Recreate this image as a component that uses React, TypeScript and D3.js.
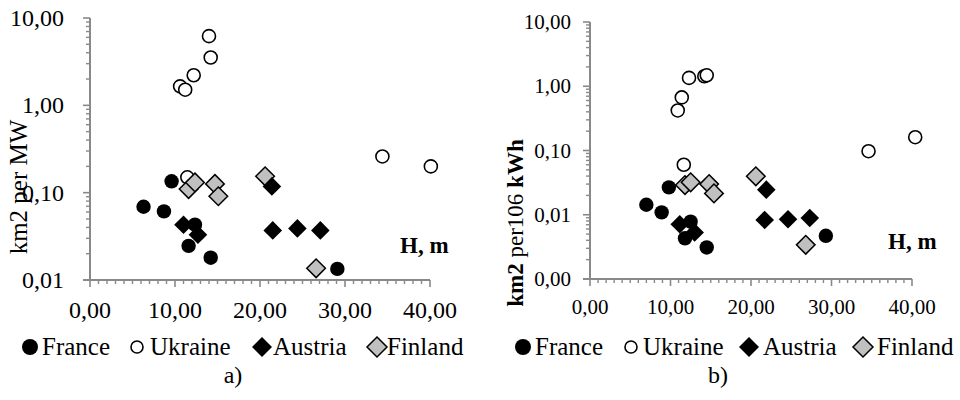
import React from 'react';
import * as d3 from 'd3';

// [H (m), value]
const franceA = [[6.3, 0.069], [8.7, 0.061], [9.6, 0.135], [11.6, 0.0246], [12.35, 0.043], [14.2, 0.018], [29.1, 0.0134]];
const ukraineA = [[10.6, 1.65], [11.2, 1.51], [11.45, 0.15], [12.2, 2.21], [14.0, 6.2], [14.2, 3.53], [34.4, 0.26], [40.1, 0.2]];
const austriaA = [[11.0, 0.043], [12.7, 0.033], [21.4, 0.118], [21.5, 0.037], [24.4, 0.039], [27.1, 0.037]];
const finlandA = [[11.6, 0.11], [12.35, 0.131], [14.7, 0.126], [15.1, 0.091], [20.6, 0.154], [26.6, 0.0136]];

const franceB = [[7.0, 0.0143], [8.9, 0.0109], [9.8, 0.0267], [11.8, 0.0043], [12.5, 0.0078], [14.5, 0.0031], [29.3, 0.0047]];
const ukraineB = [[10.9, 0.42], [11.4, 0.67], [11.65, 0.06], [12.3, 1.35], [14.2, 1.43], [14.5, 1.48], [34.6, 0.0975], [40.4, 0.161]];
const austriaB = [[11.15, 0.0071], [13.0, 0.0053], [21.7, 0.0083], [21.9, 0.0246], [24.6, 0.0085], [27.3, 0.0089]];
const finlandB = [[11.8, 0.029], [12.5, 0.032], [14.8, 0.03], [15.4, 0.0215], [20.6, 0.0397], [26.8, 0.0034]];

const seriesNames = ['France', 'Ukraine', 'Austria', 'Finland'];
const xTicks = [0, 10, 20, 30, 40];
const yTicksA = [0.01, 0.1, 1, 10];
const yTicksB = [0.001, 0.01, 0.1, 1, 10];

const FONT = 'Liberation Serif';
const AXIS = '#898989';

const fmt = (v: number) => d3.format('.2f')(v).replace('.', ',');

function Marker({ type, x, y, big }: any) {
  const r = big ? 8 : 7.2;
  if (type === 'France') return <circle cx={x} cy={y} r={r} fill="#000" />;
  if (type === 'Ukraine') return <circle cx={x} cy={y} r={big ? 6 : 6.5} fill="#fff" stroke="#000" strokeWidth={1.6} />;
  const d = big ? 10 : 9.3;
  const pts = `${x},${y - d} ${x + d},${y} ${x},${y + d} ${x - d},${y}`;
  if (type === 'Austria') return <polygon points={pts} fill="#000" />;
  return <polygon points={pts} fill="#c0c0c0" stroke="#000" strokeWidth={1.5} />;
}

function Panel({ cfg }: any) {
  const x = d3.scaleLinear().domain([0, 40]).range([cfg.x0, cfg.x1]);
  const y = d3.scaleLog().domain(cfg.yDomain).range([cfg.y0, cfg.y1]);
  const minor: number[] = [];
  cfg.yTicks.slice(0, -1).forEach((t: number) => {
    for (let k = 2; k <= 9; k++) minor.push(t * k);
  });
  const xMinor = d3.range(0, 41, 1).filter((t) => t % 10 !== 0);
  // black diamonds sit on top of the grey ones in the picture
  const order = ['France', 'Ukraine', 'Finland', 'Austria'];
  const ts = { fontFamily: FONT };
  return (
    <g>
      {/* y axis */}
      <line x1={cfg.x0} x2={cfg.x0} y1={cfg.y1} y2={cfg.y0} stroke={AXIS} strokeWidth={2} />
      {minor.map((t, i) => (
        <line key={'ym' + i} x1={cfg.x0 - 4} x2={cfg.x0} y1={y(t)} y2={y(t)} stroke={AXIS} strokeWidth={1.4} />
      ))}
      {cfg.yTicks.map((t: number) => (
        <g key={'y' + t}>
          <line x1={cfg.x0 - 7} x2={cfg.x0} y1={y(t)} y2={y(t)} stroke={AXIS} strokeWidth={1.6} />
          <text x={cfg.yLabelX} y={y(t)} textAnchor="end" dominantBaseline="central" fontSize={cfg.tickFont} style={ts}>
            {fmt(t)}
          </text>
        </g>
      ))}
      {/* x axis */}
      <line x1={cfg.x0 - 7} x2={cfg.x1} y1={cfg.y0} y2={cfg.y0} stroke={AXIS} strokeWidth={2} />
      {xMinor.map((t) => (
        <line key={'xm' + t} x1={x(t)} x2={x(t)} y1={cfg.y0} y2={cfg.y0 + 4} stroke={AXIS} strokeWidth={1.4} />
      ))}
      {xTicks.map((t) => (
        <g key={'x' + t}>
          <line x1={x(t)} x2={x(t)} y1={cfg.y0} y2={cfg.y0 + 7} stroke={AXIS} strokeWidth={1.6} />
          <text x={x(t)} y={cfg.xLabelY} textAnchor="middle" dominantBaseline="central" fontSize={cfg.tickFont} style={ts}>
            {fmt(t)}
          </text>
        </g>
      ))}
      {/* points */}
      {order.map((name) =>
        cfg.series[name].map((p: number[], i: number) => (
          <Marker key={name + i} type={name} x={x(p[0])} y={y(p[1])} />
        ))
      )}
      {/* H, m */}
      <text x={cfg.hX} y={cfg.hY} fontWeight="bold" fontSize={23} style={ts}>H, m</text>
      {/* y title */}
      <text transform={`translate(${cfg.titleX},${cfg.titleY}) rotate(-90)`} textAnchor="middle" fontSize={cfg.titleFont} style={ts}>
        {cfg.title}
      </text>
      {/* legend */}
      {seriesNames.map((name, i) => (
        <g key={'lg' + name}>
          <Marker type={name} x={cfg.legend[i][0]} y={347} big />
          <text x={cfg.legend[i][1]} y={355} fontSize={25} style={ts}>{name}</text>
        </g>
      ))}
      <text x={cfg.capX} y={383} textAnchor="middle" fontSize={24} style={ts}>{cfg.caption}</text>
    </g>
  );
}

export default function App() {
  const left = {
    x0: 90, x1: 430, y0: 280, y1: 18, yDomain: [0.01, 10], yTicks: yTicksA,
    yLabelX: 64, xLabelY: 310, tickFont: 24,
    series: { France: franceA, Ukraine: ukraineA, Austria: austriaA, Finland: finlandA },
    hX: 400, hY: 253,
    title: <tspan>km2 per MW</tspan>, titleX: 27, titleY: 187, titleFont: 25,
    legend: [[30, 42], [137, 150], [262, 273], [377, 387]],
    caption: 'a)', capX: 233,
  };
  const right = {
    x0: 590, x1: 912, y0: 279, y1: 22, yDomain: [0.001, 10], yTicks: yTicksB,
    yLabelX: 571, xLabelY: 307, tickFont: 21,
    series: { France: franceB, Ukraine: ukraineB, Austria: austriaB, Finland: finlandB },
    hX: 888, hY: 249,
    title: (
      <>
        <tspan fontWeight="bold">km2</tspan>
        <tspan> per106 </tspan>
        <tspan fontWeight="bold">kWh</tspan>
      </>
    ),
    titleX: 523, titleY: 223, titleFont: 23,
    legend: [[523, 535], [631, 643], [749, 763], [863, 877]],
    caption: 'b)', capX: 718,
  };
  return (
    <svg width={960} height={400} style={{ position: 'absolute', left: 0, top: 0, background: '#fff' }}>
      <rect width={960} height={400} fill="#fff" />
      <Panel cfg={left} />
      <Panel cfg={right} />
    </svg>
  );
}
